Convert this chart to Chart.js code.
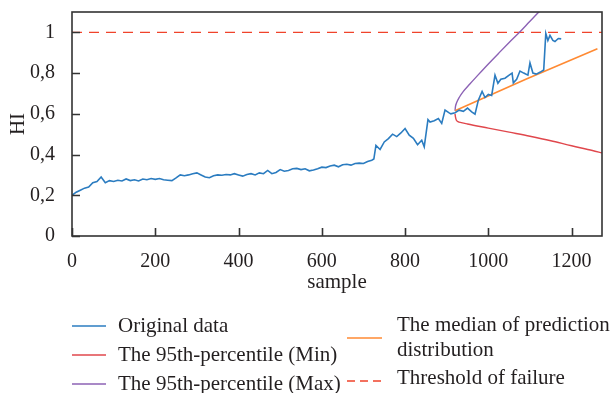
<!DOCTYPE html>
<html>
<head>
<meta charset="utf-8">
<script src="https://cdn.jsdelivr.net/npm/chart.js@4"></script>
<style>
  html, body { margin: 0; padding: 0; background: #fff; }
  #wrap { width: 613px; height: 393px; position: relative; }
</style>
</head>
<body>
<div id="wrap"><canvas id="hiChart" width="613" height="393"></canvas></div>
<script>
// Health indicator samples
var sampleX = [0, 10, 20, 30, 40, 50, 60, 70, 80, 90, 100, 110, 120, 130, 140, 150, 160, 170, 180, 190,
  200, 210, 220, 230, 240, 250, 260, 270, 280, 290, 300, 310, 320, 330, 340, 350, 360, 370, 380, 390,
  400, 410, 420, 430, 440, 450, 460, 470, 480, 490, 500, 510, 520, 530, 540, 550, 560, 570, 580, 590,
  600, 610, 620, 630, 640, 650, 660, 670, 680, 690, 700, 710, 720, 725, 730, 740, 750, 760, 770, 780,
  790, 800, 810, 820, 830, 840, 846, 855, 860, 870, 880, 888, 896, 905, 910, 920, 930, 940, 950, 960,
  968, 976, 985, 992, 1000, 1008, 1016, 1023, 1030, 1040, 1050, 1057, 1060, 1068, 1076, 1085, 1095, 1100, 1107, 1115,
  1125, 1133, 1138, 1143, 1148, 1155, 1160, 1168, 1175];
var originalHI = [0.200, 0.215, 0.225, 0.235, 0.240, 0.262, 0.268, 0.290, 0.262, 0.272, 0.268, 0.274, 0.270, 0.280, 0.272, 0.276, 0.270, 0.280, 0.276, 0.282,
  0.278, 0.282, 0.276, 0.274, 0.272, 0.285, 0.300, 0.296, 0.300, 0.306, 0.310, 0.300, 0.290, 0.286, 0.296, 0.300, 0.298, 0.302, 0.300, 0.306,
  0.300, 0.294, 0.302, 0.306, 0.300, 0.310, 0.306, 0.322, 0.306, 0.312, 0.326, 0.318, 0.322, 0.330, 0.332, 0.326, 0.330, 0.320, 0.324, 0.330,
  0.338, 0.336, 0.344, 0.348, 0.340, 0.350, 0.352, 0.348, 0.356, 0.358, 0.356, 0.366, 0.372, 0.378, 0.445, 0.425, 0.462, 0.478, 0.500, 0.488,
  0.506, 0.528, 0.495, 0.480, 0.448, 0.470, 0.438, 0.572, 0.560, 0.566, 0.577, 0.553, 0.618, 0.606, 0.600, 0.605, 0.618, 0.612, 0.628, 0.610,
  0.598, 0.667, 0.710, 0.680, 0.695, 0.690, 0.790, 0.750, 0.770, 0.775, 0.790, 0.800, 0.752, 0.770, 0.810, 0.800, 0.790, 0.850, 0.800, 0.795,
  0.805, 0.815, 0.995, 0.960, 0.985, 0.960, 0.955, 0.970, 0.968];

// Prediction bands
var minX = [920, 921, 923, 927, 935, 950, 1000, 1050, 1100, 1150, 1200, 1250, 1273];
var minHI = [0.600, 0.585, 0.570, 0.562, 0.557, 0.550, 0.530, 0.510, 0.490, 0.468, 0.443, 0.420, 0.408];
var maxX = [920, 921, 924, 930, 940, 955, 975, 1000, 1025, 1050, 1076, 1100, 1125, 1140];
var maxHI = [0.615, 0.635, 0.655, 0.680, 0.710, 0.745, 0.790, 0.845, 0.898, 0.950, 1.003, 1.055, 1.108, 1.140];
var medianX = [920, 1090, 1262];
var medianHI = [0.615, 0.770, 0.920];
var thresholdX = [0, 1273];
var thresholdHI = [1, 1];

var xTicks = [0, 200, 400, 600, 800, 1000, 1200];
var yTicks = [0, 0.2, 0.4, 0.6, 0.8, 1];

function toPoints(xs, ys) {
  return xs.map(function(x, i) { return { x: x, y: ys[i] }; });
}

var FONT = "'Liberation Serif', 'DejaVu Serif', serif";
var TEXT = '#231f20';
var AXIS = '#333333';

// Frame, inward ticks, axis titles and the two-column legend
var decorations = {
  id: 'decorations',
  afterDraw: function(chart) {
    var ctx = chart.ctx;
    var area = chart.chartArea;
    var xs = chart.scales.x, ys = chart.scales.y;
    ctx.save();
    ctx.strokeStyle = AXIS;
    ctx.lineWidth = 1.6;
    ctx.strokeRect(area.left, area.top, area.right - area.left, area.bottom - area.top);
    ctx.beginPath();
    xs.ticks.forEach(function(t) {
      var px = Math.round(xs.getPixelForValue(t.value)) + 0.5;
      ctx.moveTo(px, area.bottom);
      ctx.lineTo(px, area.bottom - 8);
    });
    ys.ticks.forEach(function(t) {
      var py = Math.round(ys.getPixelForValue(t.value)) + 0.5;
      ctx.moveTo(area.left, py);
      ctx.lineTo(area.left + 8, py);
    });
    ctx.stroke();

    ctx.fillStyle = TEXT;
    ctx.font = '21px ' + FONT;
    ctx.textAlign = 'center';
    ctx.textBaseline = 'middle';
    ctx.fillText('sample', (area.left + area.right) / 2, 282);
    ctx.save();
    ctx.translate(18, (area.top + area.bottom) / 2);
    ctx.rotate(-Math.PI / 2);
    ctx.fillText('HI', 0, 0);
    ctx.restore();

    // legend slots: [lineX0, lineX1, lineY, textX, textY]
    var slots = [
      [72, 106, 326, 118, 326],
      [72, 106, 355, 118, 355],
      [72, 106, 384, 118, 384],
      [347, 382, 338, 397, 325],
      [347, 382, 381, 397, 378]
    ];
    ctx.textAlign = 'left';
    chart.data.datasets.forEach(function(ds, i) {
      var s = slots[i];
      ctx.save();
      ctx.strokeStyle = ds.borderColor;
      ctx.lineWidth = 1.6;
      ctx.setLineDash(ds.borderDash ? [8, 5] : []);
      ctx.beginPath();
      ctx.moveTo(s[0], s[2]);
      ctx.lineTo(s[1], s[2]);
      ctx.stroke();
      ctx.restore();
      var lines = Array.isArray(ds.label) ? ds.label : [ds.label];
      lines.forEach(function(line, k) {
        ctx.fillText(line, s[3], s[4] + k * 25);
      });
    });
    ctx.restore();
  }
};

var ctx = document.getElementById('hiChart').getContext('2d');
var chart = new Chart(ctx, {
  type: 'line',
  data: {
    datasets: [
      { label: 'Original data', data: toPoints(sampleX, originalHI), borderColor: '#2b7cc0', borderWidth: 1.6, order: 0 },
      { label: 'The 95th-percentile (Min)', data: toPoints(minX, minHI), borderColor: '#e0474c', borderWidth: 1.4, cubicInterpolationMode: 'monotone', order: 2 },
      { label: 'The 95th-percentile (Max)', data: toPoints(maxX, maxHI), borderColor: '#8c62b5', borderWidth: 1.4, cubicInterpolationMode: 'monotone', order: 2 },
      { label: ['The median of prediction', 'distribution'], data: toPoints(medianX, medianHI), borderColor: '#ff8a33', borderWidth: 1.6, order: 1 },
      { label: 'Threshold of failure', data: toPoints(thresholdX, thresholdHI), borderColor: '#f0432b', borderWidth: 1.4, borderDash: [10, 7], order: 3 }
    ]
  },
  options: {
    responsive: false,
    animation: false,
    devicePixelRatio: 1,
    elements: { point: { radius: 0 }, line: { tension: 0 } },
    layout: { padding: { left: 0, top: 12, right: 11, bottom: 0 } },
    plugins: { legend: { display: false }, tooltip: { enabled: false } },
    scales: {
      x: {
        type: 'linear',
        min: 0,
        max: 1273,
        grid: { display: false },
        border: { display: false },
        afterBuildTicks: function(scale) {
          scale.ticks = xTicks.map(function(v) { return { value: v }; });
        },
        afterFit: function(scale) {
          scale.height = 157;
          scale.paddingLeft = 0;
          scale.paddingRight = 0;
        },
        ticks: {
          padding: 6,
          color: TEXT,
          font: { family: FONT, size: 20 },
          maxRotation: 0,
          callback: function(v) { return String(v); }
        }
      },
      y: {
        min: 0,
        max: 1.1,
        grid: { display: false },
        border: { display: false },
        afterBuildTicks: function(scale) {
          scale.ticks = yTicks.map(function(v) { return { value: v }; });
        },
        afterFit: function(scale) {
          scale.width = 72;
          scale.paddingTop = 0;
          scale.paddingBottom = 0;
        },
        ticks: {
          padding: 9,
          color: TEXT,
          font: { family: FONT, size: 20 },
          callback: function(v) { return String(Math.round(v * 10) / 10).replace('.', ','); }
        }
      }
    }
  },
  plugins: [decorations]
});
</script>
</body>
</html>
